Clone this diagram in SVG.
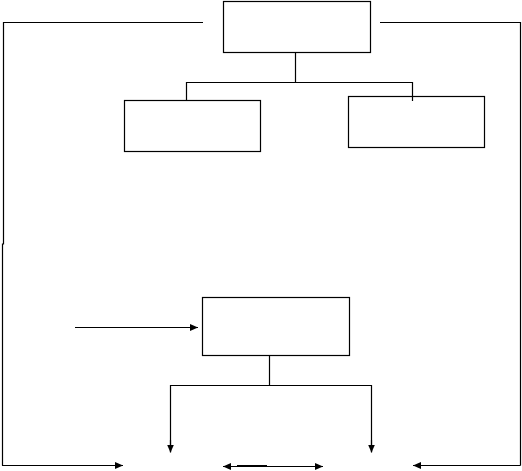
<svg xmlns="http://www.w3.org/2000/svg" width="522" height="471" viewBox="0 0 522 471">
<style>
.box{fill:none;stroke:#000;stroke-width:1.2}
.ln{fill:none;stroke:#000;stroke-width:1.2}
</style>
<defs>
<marker id="ah" markerUnits="userSpaceOnUse" markerWidth="9" markerHeight="8" refX="8" refY="4" orient="auto-start-reverse">
<path d="M0,0.5 L8,4 L0,7.5 z" fill="#000"/>
</marker>
</defs>
<rect width="522" height="471" fill="#fff"/>
<g id="top-box"><rect class="box" x="223.5" y="1.5" width="147" height="51"/></g>
<g id="left-box"><rect class="box" x="124.5" y="100.5" width="136" height="51"/></g>
<g id="right-box"><rect class="box" x="348.5" y="96.5" width="136" height="51"/></g>
<g id="middle-box"><rect class="box" x="202.5" y="297.5" width="147" height="58"/></g>
<g id="connectors">
<polyline class="ln" points="203,22.5 3.5,22.5 3.5,244 2.5,244 2.5,465.5 2,465.5"/>
<line class="ln" x1="2.5" y1="465.5" x2="123" y2="465.5" marker-end="url(#ah)"/>
<polyline class="ln" points="380,22.5 520.5,22.5 520.5,465.5" />
<line class="ln" x1="520.5" y1="465.5" x2="413" y2="465.5" marker-end="url(#ah)"/>
<line class="ln" x1="295.5" y1="52.5" x2="295.5" y2="82.5"/>
<polyline class="ln" points="186.5,100.5 186.5,82.5 412.5,82.5 412.5,101"/>
<line class="ln" x1="75" y1="327.5" x2="198" y2="327.5" marker-end="url(#ah)"/>
<line class="ln" x1="269.5" y1="355.5" x2="269.5" y2="385.5"/>
<polyline class="ln" points="170.5,452 170.5,385.5 371.5,385.5 371.5,452"/>
<line class="ln" x1="170.5" y1="440" x2="170.5" y2="452.5" marker-end="url(#ah)"/>
<line class="ln" x1="371.5" y1="440" x2="371.5" y2="452.5" marker-end="url(#ah)"/>
<line class="ln" x1="223" y1="466.5" x2="323" y2="466.5" marker-start="url(#ah)" marker-end="url(#ah)"/>
<line x1="237" y1="466" x2="267" y2="466" stroke="#000" stroke-width="2"/>
</g>
</svg>
